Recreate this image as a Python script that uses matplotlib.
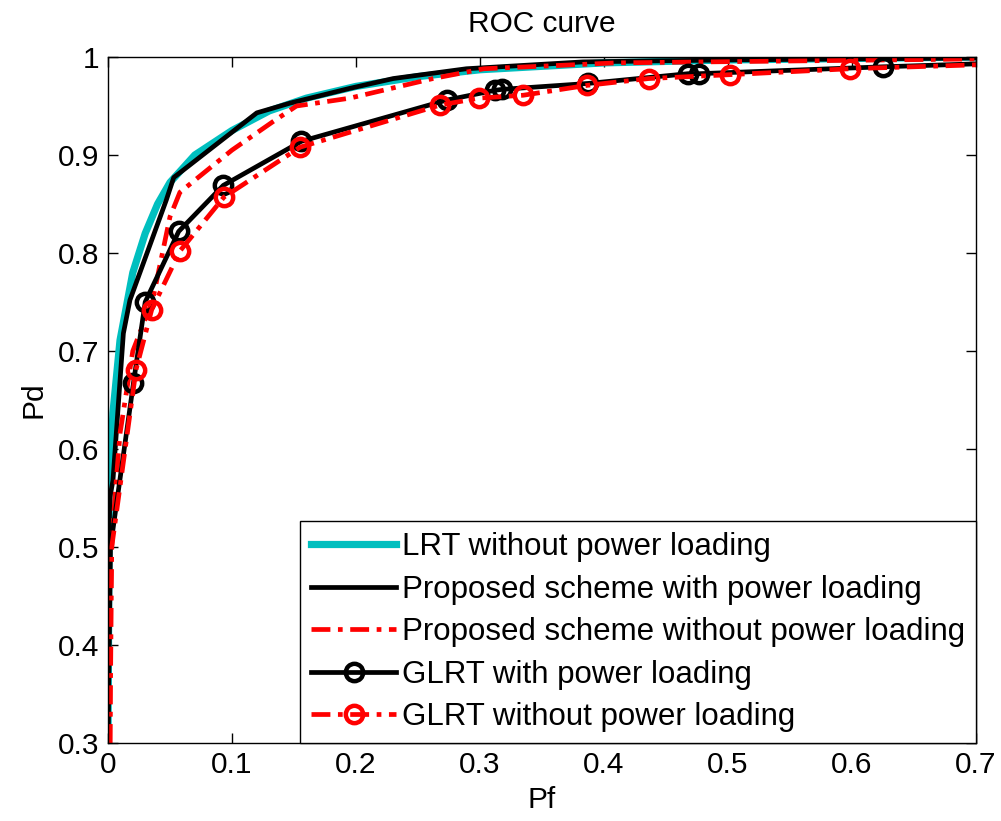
import matplotlib
matplotlib.use("Agg")
import matplotlib.pyplot as plt

plt.rcParams['font.family'] = ['Liberation Sans', 'DejaVu Sans']

# LRT without power loading
lrt_pf = [0.0, 0.001, 0.004, 0.0097, 0.02, 0.03, 0.04, 0.05, 0.07, 0.10, 0.13, 0.16, 0.20, 0.25, 0.30, 0.40, 0.50, 0.70]
lrt_pd = [0.30, 0.55, 0.637, 0.711, 0.78, 0.82, 0.85, 0.872, 0.90, 0.925, 0.945, 0.958, 0.97, 0.98, 0.987, 0.994, 0.997, 1.0]

# Proposed scheme with power loading
pw_pf = [0.0, 0.0, 0.0016, 0.004, 0.0124, 0.0177, 0.047, 0.053, 0.12, 0.147, 0.195, 0.23, 0.289, 0.383, 0.50, 0.70]
pw_pd = [0.30, 0.473, 0.551, 0.568, 0.718, 0.752, 0.854, 0.877, 0.943, 0.953, 0.968, 0.978, 0.988, 0.995, 0.997, 0.999]

# Proposed scheme without power loading
pn_pf = [0.0016, 0.0016, 0.003, 0.0056, 0.0097, 0.02, 0.036, 0.05, 0.058, 0.10, 0.133, 0.152, 0.195, 0.262, 0.303, 0.41, 0.70]
pn_pd = [0.30, 0.432, 0.50, 0.551, 0.616, 0.70, 0.752, 0.837, 0.862, 0.905, 0.934, 0.950, 0.958, 0.978, 0.988, 0.994, 0.998]

# GLRT with power loading
gw_pf = [0.0, 0.002, 0.0205, 0.030, 0.057, 0.093, 0.156, 0.273, 0.312, 0.318, 0.387, 0.468, 0.477, 0.625, 0.70]
gw_pd = [0.30, 0.50, 0.667, 0.750, 0.822, 0.869, 0.914, 0.956, 0.966, 0.967, 0.973, 0.983, 0.983, 0.990, 0.993]

# GLRT without power loading
gn_pf = [0.0016, 0.003, 0.0226, 0.0352, 0.058, 0.0935, 0.155, 0.268, 0.299, 0.335, 0.386, 0.436, 0.502, 0.598, 0.70]
gn_pd = [0.30, 0.50, 0.681, 0.742, 0.802, 0.857, 0.908, 0.951, 0.958, 0.961, 0.971, 0.978, 0.982, 0.988, 0.992]

labels = ['LRT without power loading',
          'Proposed scheme with power loading',
          'Proposed scheme without power loading',
          'GLRT with power loading',
          'GLRT without power loading']

fig = plt.figure(figsize=(10.01, 8.21), dpi=100)
ax = fig.add_axes([108/1001, 1-743/821, (976-108)/1001, (743-57)/821])

lw = 3.4
dd = (4.0, 1.6, 1.0, 1.6)
ax.plot(lrt_pf, lrt_pd, color='#00BFBF', lw=5.2, label=labels[0], solid_joinstyle='round')
ax.plot(pw_pf, pw_pd, color='black', lw=lw, label=labels[1])
ax.plot(pn_pf, pn_pd, color='red', lw=lw, dashes=dd, label=labels[2])
ax.plot(gw_pf, gw_pd, color='black', lw=lw, marker='o', markersize=12.5, markeredgewidth=3.2,
        markerfacecolor='none', markevery=list(range(2, len(gw_pf)-1)), label=labels[3])
ax.plot(gn_pf, gn_pd, color='red', lw=lw, dashes=dd, marker='o', markersize=12.5, markeredgewidth=3.2,
        markerfacecolor='none', markevery=list(range(2, len(gn_pf)-1)), label=labels[4])

ax.set_xlim(0, 0.7)
ax.set_ylim(0.3, 1.0)
ax.set_xticks([0, 0.1, 0.2, 0.3, 0.4, 0.5, 0.6, 0.7])
ax.set_xticklabels(['0', '0.1', '0.2', '0.3', '0.4', '0.5', '0.6', '0.7'])
ax.set_yticks([0.3, 0.4, 0.5, 0.6, 0.7, 0.8, 0.9, 1.0])
ax.set_yticklabels(['0.3', '0.4', '0.5', '0.6', '0.7', '0.8', '0.9', '1'])
ax.tick_params(direction='in', top=True, right=True, labelsize=21.5, length=7, width=1)
ax.tick_params(axis='y', pad=6.5)
ax.tick_params(axis='x', pad=6)
for s in ax.spines.values():
    s.set_linewidth(1.0)

ax.set_title('ROC curve', fontsize=21.5, pad=18)
ax.set_xlabel('Pf', fontsize=21.5, labelpad=5)
ax.set_ylabel('Pd', fontsize=21.5, labelpad=7)

leg = ax.legend(loc='lower right', fontsize=22.5, frameon=True, fancybox=False,
                edgecolor='black', framealpha=1, handlelength=2.7, handletextpad=0.2,
                borderaxespad=0, borderpad=0.35, labelspacing=0.4)
leg.get_frame().set_linewidth(1.0)

fig.savefig('out.png', dpi=100)
